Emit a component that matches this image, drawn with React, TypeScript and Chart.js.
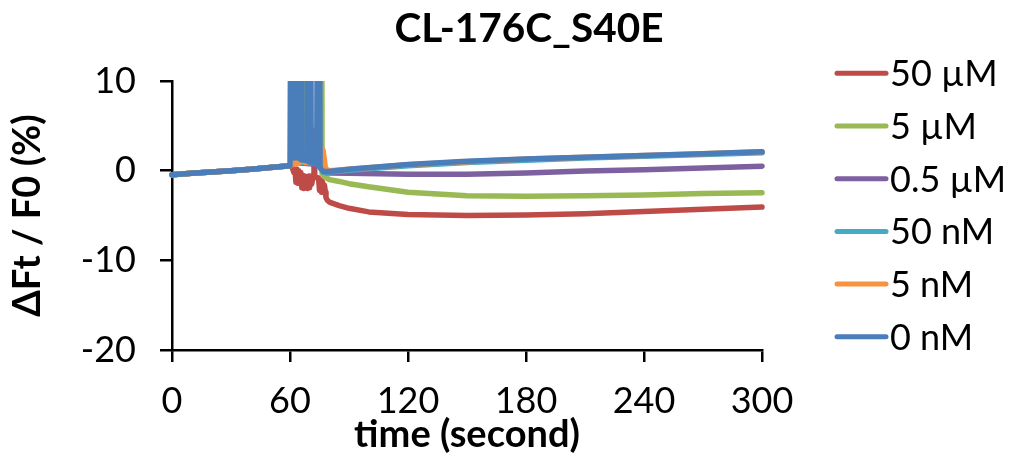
import React, { useEffect, useRef } from 'react';
import { Chart, registerables } from 'chart.js';

Chart.register(...registerables);

const TITLE = 'CL-176C_S40E';
const X_TITLE = 'time (second)';
const Y_TITLE = 'ΔFt / F0 (%)';
const X_TICKS = [0, 60, 120, 180, 240, 300];
const Y_TICKS = [-20, -10, 0, 10];
const SERIES_LABELS = ['50 µM', '5 µM', '0.5 µM', '50 nM', '5 nM', '0 nM'];
const SERIES_COLORS = ['#BE4B48', '#98B954', '#7D60A0', '#46AAC5', '#F69240', '#4A7EBB'];

// shared baseline before injection (all series overlap)
const BASE_T = [0, 10, 20, 30, 40, 50, 60];
const BASE_V = [-0.45, -0.3, -0.15, 0.0, 0.15, 0.35, 0.55];

// 50 µM
const RED_T = [61, 62, 62.5, 63, 63.5, 64, 64.5, 65, 65.5, 66, 66.5, 67, 67.5, 68, 68.5, 69, 69.5, 70, 70.5, 71, 71.8, 72.2, 72.6, 73.5, 74.5, 75, 75.5, 76, 76.5, 77, 77.5, 78, 78.3, 79, 80, 85, 90, 100, 120, 150, 180, 210, 240, 270, 300];
const RED_V = [0.4, -0.2, 0.3, -1.3, 0.2, -1.4, 0.0, -1.2, -0.2, -1.9, -0.5, -2.0, -0.6, -1.9, -0.7, -2.0, -0.6, -1.9, -0.6, -1.5, -0.6, 4.5, -0.6, -0.8, -0.8, -2.2, -1.0, -2.4, -1.2, -2.4, -1.6, -2.4, -3.0, -3.3, -3.5, -3.9, -4.2, -4.6, -4.9, -5.0, -4.95, -4.8, -4.55, -4.3, -4.05];

// 5 µM
const GREEN_T = [62, 67.0, 67.2, 67.4, 72, 75.9, 76.1, 76.3, 77, 78, 80, 85, 90, 100, 120, 150, 180, 210, 240, 270, 300];
const GREEN_V = [0.9, 1.0, 30, 1.0, 0.9, 1.0, 30, -0.3, -0.5, -0.7, -1.0, -1.2, -1.45, -1.8, -2.4, -2.8, -2.85, -2.8, -2.7, -2.55, -2.45];

// 0.5 µM
const PURPLE_T = [62, 75, 76.5, 78, 80, 90, 120, 150, 180, 210, 240, 270, 300];
const PURPLE_V = [0.9, 0.7, 0.1, -0.2, -0.25, -0.3, -0.4, -0.4, -0.25, -0.05, 0.1, 0.3, 0.5];

// 50 nM
const AQUA_T = [62, 75, 77, 80, 90, 120, 150, 180, 210, 240, 270, 300];
const AQUA_V = [1.0, 0.8, -0.15, -0.15, 0.05, 0.55, 0.9, 1.15, 1.4, 1.6, 1.8, 2.0];

// 5 nM
const ORANGE_T = [61, 62, 63, 64, 65, 66, 68, 70, 72, 74, 75.5, 76, 76.8, 77.5, 78, 80, 90, 120, 150, 180, 210, 240, 270, 300];
const ORANGE_V = [0.7, 1.0, 0.7, 1.3, 0.9, 1.3, 0.9, 1.1, 0.9, 1.0, 1.5, 2.6, 2.3, 1.2, 0.2, 0.0, 0.15, 0.65, 1.0, 1.3, 1.5, 1.7, 1.9, 2.1];

// 0 nM (off-scale spike during injection)
const BLUE_T = [60.6, 61.1, 61.6, 62.1, 62.6, 63.1, 63.6, 64.1, 64.6, 65.1, 65.6, 66.0, 68.8, 69.2, 69.7, 70.4, 70.8, 73.6, 74.0, 74.4, 74.9, 75.3, 77, 80, 90, 120, 150, 180, 210, 240, 270, 300];
const BLUE_V = [30, 1.5, 30, 1.4, 30, 1.5, 30, 1.4, 30, 1.3, 30, 1.2, 1.1, 30, 1.0, 30, 0.9, 0.8, 30, 0.5, 30, 0.3, -0.1, -0.1, 0.15, 0.7, 1.05, 1.3, 1.5, 1.7, 1.9, 2.1];

const SERIES_T = [RED_T, GREEN_T, PURPLE_T, AQUA_T, ORANGE_T, BLUE_T];
const SERIES_V = [RED_V, GREEN_V, PURPLE_V, AQUA_V, ORANGE_V, BLUE_V];

const FONT = 'Lato';

const overlayPlugin = {
  id: 'overlay',
  afterDraw(chart: any) {
    const ctx = chart.ctx as CanvasRenderingContext2D;
    ctx.save();
    ctx.fillStyle = '#000';
    ctx.font = `bold 40.5px ${FONT}`;
    ctx.textAlign = 'center';
    ctx.textBaseline = 'alphabetic';
    ctx.fillText(TITLE, 529, 42);
    ctx.font = `36px ${FONT}`;
    ctx.textAlign = 'left';
    chart.data.datasets.forEach((ds: any, i: number) => {
      const y = 73.3 + i * 52.7;
      ctx.strokeStyle = ds.borderColor;
      ctx.lineWidth = 5;
      ctx.lineCap = 'round';
      ctx.beginPath();
      ctx.moveTo(837, y);
      ctx.lineTo(886, y);
      ctx.stroke();
      ctx.fillStyle = '#000';
      ctx.fillText(ds.label, 890, y + 13);
    });
    ctx.restore();
  },
};

export default function App() {
  const ref = useRef<HTMLCanvasElement | null>(null);
  useEffect(() => {
    if (!ref.current) return;
    const datasets = SERIES_LABELS.map((label, i) => {
      const ts = BASE_T.concat(SERIES_T[i]);
      const vs = BASE_V.concat(SERIES_V[i]);
      return {
        label,
        data: ts.map((t, j) => ({ x: t, y: vs[j] })),
        borderColor: SERIES_COLORS[i],
        backgroundColor: SERIES_COLORS[i],
        borderWidth: 5.5,
        pointRadius: 0,
        tension: 0,
        borderJoinStyle: 'round' as const,
        borderCapStyle: 'round' as const,
        order: SERIES_LABELS.length - 1 - i,
        clip: { left: 3, right: 3, top: 0, bottom: 3 },
      };
    });
    const chart = new Chart(ref.current, {
      type: 'line',
      data: { datasets },
      plugins: [overlayPlugin],
      options: {
        responsive: false,
        animation: false,
        devicePixelRatio: 1,
        layout: { padding: { top: 81, right: 248, left: 0, bottom: 0 } },
        plugins: { legend: { display: false }, title: { display: false }, tooltip: { enabled: false } },
        scales: {
          x: {
            type: 'linear',
            min: 0,
            max: 300,
            afterFit: (s: any) => { s.height = 107; },
            afterBuildTicks: (s: any) => { s.ticks = X_TICKS.map((v) => ({ value: v })); },
            border: { display: true, color: '#000', width: 2.5 },
            grid: { display: true, drawOnChartArea: false, drawTicks: true, tickLength: 12, color: '#000', lineWidth: 2.5 },
            ticks: { color: '#000', font: { family: FONT, size: 36 }, padding: 18, maxRotation: 0, autoSkip: false },
            title: { display: true, text: X_TITLE, color: '#000', font: { family: FONT, size: 38, weight: 'bold' }, padding: { top: 0, bottom: -1 } },
          },
          y: {
            type: 'linear',
            min: -20,
            max: 10,
            afterFit: (s: any) => { s.width = 172; },
            afterBuildTicks: (s: any) => { s.ticks = Y_TICKS.map((v) => ({ value: v })); },
            border: { display: true, color: '#000', width: 2.5 },
            grid: { display: true, drawOnChartArea: false, drawTicks: true, tickLength: 12, color: '#000', lineWidth: 2.5 },
            ticks: { color: '#000', font: { family: FONT, size: 36 }, padding: 24 },
            title: { display: true, text: Y_TITLE, color: '#000', font: { family: FONT, size: 38, weight: 'bold' }, padding: { top: 5, bottom: 0 } },
          },
        },
      },
    });
    return () => chart.destroy();
  }, []);
  return (
    <div style={{ position: 'absolute', left: 0, top: 0, width: 1010, height: 457, background: '#fff' }}>
      <canvas ref={ref} width={1010} height={457} style={{ width: 1010, height: 457, display: 'block' }} />
    </div>
  );
}
